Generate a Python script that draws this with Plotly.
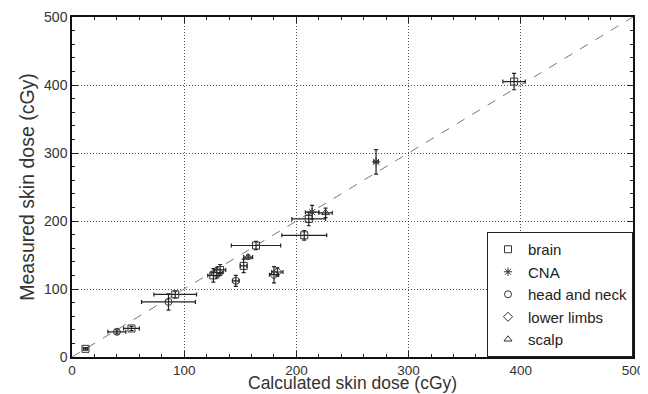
import plotly.graph_objects as go

# brain
brain_x = [12, 53, 92, 126, 129, 132, 153, 164, 207, 211, 394]
brain_y = [12, 42, 92, 120, 124, 128, 134, 164, 179, 203, 405]
brain_xerr = [2, 7, 19, 5, 5, 5, 3, 22, 20, 15, 10]
brain_yerr = [2, 3, 5, 10, 8, 8, 10, 6, 7, 10, 12]
# CNA
cna_x = [214, 271]
cna_y = [213, 287]
cna_xerr = [6, 2]
cna_yerr = [10, 18]
# head and neck
hn_x = [40, 86, 146]
hn_y = [37, 81, 112]
hn_xerr = [8, 24, 3]
hn_yerr = [3, 12, 8]
# lower limbs
ll_x = [180, 183]
ll_y = [121, 125]
ll_xerr = [4, 5]
ll_yerr = [12, 6]
# scalp
sc_x = [157, 226]
sc_y = [147, 212]
sc_xerr = [4, 6]
sc_yerr = [3, 7]

identity = [0, 500]
ticks = [0, 100, 200, 300, 400, 500]
x_title = "Calculated skin dose (cGy)"
y_title = "Measured skin dose (cGy)"

FONT = "Liberation Sans, Arial, sans-serif"
ink = "#333333"
fig = go.Figure()
fig.add_trace(go.Scatter(x=identity, y=identity, mode="lines",
                         line=dict(color="#777777", dash="dash", width=1),
                         showlegend=False, hoverinfo="skip"))

def add(name, x, y, xe, ye, symbol):
    fig.add_trace(go.Scatter(
        x=x, y=y, mode="markers", name=name,
        marker=dict(symbol=symbol, size=7, color=ink, line=dict(color=ink, width=1)),
        error_x=dict(type="data", array=xe, color="#222222", thickness=1.2, width=2),
        error_y=dict(type="data", array=ye, color="#222222", thickness=1.2, width=2),
    ))

add("brain", brain_x, brain_y, brain_xerr, brain_yerr, "square-open")
add("CNA", cna_x, cna_y, cna_xerr, cna_yerr, "asterisk-open")
add("head and neck", hn_x, hn_y, hn_xerr, hn_yerr, "circle-open")
add("lower limbs", ll_x, ll_y, ll_xerr, ll_yerr, "diamond-open")
add("scalp", sc_x, sc_y, sc_xerr, sc_yerr, "triangle-up-open")

axis_common = dict(
    range=[0, 500], tickvals=ticks, ticktext=[str(t) for t in ticks],
    showgrid=True, gridcolor="#555555", griddash="1px,2px", gridwidth=1,
    showline=True, linecolor="#111111", linewidth=1.5, mirror="allticks",
    ticks="inside", ticklen=6, tickcolor="#222222",
    minor=dict(dtick=20, tick0=0, ticks="inside", ticklen=3, tickcolor="#222222", showgrid=False),
    zeroline=False, automargin=False,
    tickfont=dict(family=FONT, size=14, color="#333333"),
)

fig.update_layout(
    width=640, height=386,
    margin=dict(l=64, r=15, t=9, b=37),
    plot_bgcolor="white", paper_bgcolor="white",
    xaxis=dict(**axis_common, tickfont=dict(family=FONT, size=13.5, color="#333333")) if False else dict(axis_common),
    yaxis=dict(**axis_common,
               title=dict(text=y_title, standoff=4,
                          font=dict(family=FONT, size=19.5, color="#333333"))),
    legend=dict(x=1, y=0, xanchor="right", yanchor="bottom",
                bordercolor="#222222", borderwidth=1, bgcolor="white",
                font=dict(family=FONT, size=15, color="#222222"),
                tracegroupgap=0, itemwidth=30),
    font=dict(family=FONT),
    annotations=[dict(text=x_title, xref="paper", yref="paper", x=0.5, y=0,
                      xanchor="center", yanchor="bottom", yshift=-37, showarrow=False,
                      borderpad=0,
                      font=dict(family=FONT, size=17.5, color="#333333"))],
)
fig.update_xaxes(tickfont=dict(size=13.5))

fig.write_html("out.html")
